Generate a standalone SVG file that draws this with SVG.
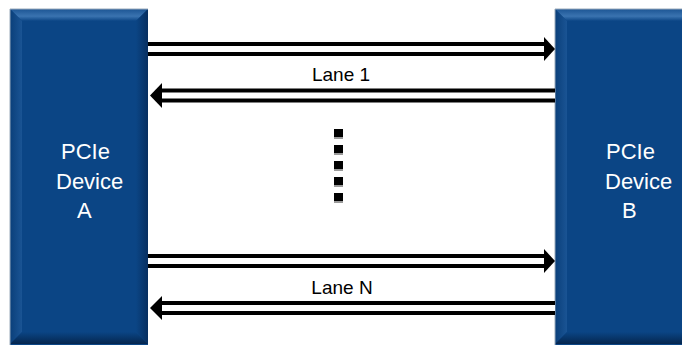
<svg xmlns="http://www.w3.org/2000/svg" width="682" height="345" viewBox="0 0 682 345">
  <defs>
    <linearGradient id="gTop" x1="0" y1="0" x2="0" y2="1">
      <stop offset="0" stop-color="#1c5594"/>
      <stop offset="0.6" stop-color="#3a73b0"/>
      <stop offset="1" stop-color="#0b4585"/>
    </linearGradient>
    <linearGradient id="gLeft" x1="0" y1="0" x2="1" y2="0">
      <stop offset="0" stop-color="#0a3f7a"/>
      <stop offset="1" stop-color="#1a5494"/>
    </linearGradient>
    <linearGradient id="gRight" x1="0" y1="0" x2="1" y2="0">
      <stop offset="0" stop-color="#0b4585"/>
      <stop offset="1" stop-color="#072f60"/>
    </linearGradient>
    <linearGradient id="gBottom" x1="0" y1="0" x2="0" y2="1">
      <stop offset="0" stop-color="#0b4585"/>
      <stop offset="1" stop-color="#05264f"/>
    </linearGradient>
  </defs>
  <style>
    .face { fill: #0b4585; }
    .edge { stroke: #9aaabb; stroke-width: 1; fill: none; }
    .lbl { font-family: "Liberation Sans", Arial, sans-serif; font-size: 22px; fill: #ffffff; }
    .lane { font-family: "Liberation Sans", Arial, sans-serif; font-size: 19px; fill: #000000; text-anchor: middle; }
    .arrow { fill: #000000; }
    .gap { fill: #ffffff; }
    .dot { fill: #000000; }
    .dotsh { fill: #9a9a9a; }
  </style>
  <rect width="682" height="345" fill="#ffffff"/>

  <g id="deviceA">
    <rect class="face" x="10" y="9" width="138" height="336"/>
    <polygon fill="url(#gTop)" points="10,9 148,9 136,21 22,21"/>
    <polygon fill="url(#gLeft)" points="10,9 22,21 22,332 10,344"/>
    <polygon fill="url(#gRight)" points="148,9 148,344 136,332 136,21"/>
    <polygon fill="url(#gBottom)" points="10,344 22,332 136,332 148,344"/>
    <path class="edge" d="M10,345 V9 H148"/>
    <text class="lbl" x="61" y="159">PCIe</text>
    <text class="lbl" x="56" y="189">Device</text>
    <text class="lbl" x="77" y="218">A</text>
  </g>

  <g id="deviceB">
    <rect class="face" x="555" y="9" width="140" height="336"/>
    <polygon fill="url(#gTop)" points="555,9 695,9 683,21 567,21"/>
    <polygon fill="url(#gLeft)" points="555,9 567,21 567,332 555,344"/>
    <polygon fill="url(#gBottom)" points="555,344 567,332 683,332 695,344"/>
    <path class="edge" d="M555,345 V9 H682"/>
    <text class="lbl" x="606" y="159">PCIe</text>
    <text class="lbl" x="605" y="189">Device</text>
    <text class="lbl" x="622" y="218">B</text>
  </g>

  <g id="connectors">
    <!-- Lane 1 TX (A to B) -->
    <rect class="arrow" x="148" y="42" width="398" height="14"/>
    <rect class="gap" x="148" y="46" width="398" height="6"/>
    <polygon class="arrow" points="544,37 555,49 544,61"/>
    <!-- Lane 1 RX (B to A) -->
    <rect class="arrow" x="161" y="88.5" width="394" height="14"/>
    <rect class="gap" x="161" y="92.5" width="394" height="6"/>
    <polygon class="arrow" points="150,95.5 162,83 162,108"/>
    <!-- Lane N TX (A to B) -->
    <rect class="arrow" x="148" y="254" width="398" height="14"/>
    <rect class="gap" x="148" y="258" width="398" height="6"/>
    <polygon class="arrow" points="544,249 555,261 544,273"/>
    <!-- Lane N RX (B to A) -->
    <rect class="arrow" x="161" y="301" width="394" height="14"/>
    <rect class="gap" x="161" y="305" width="394" height="6"/>
    <polygon class="arrow" points="150,308 162,296 162,320"/>
  </g>

  <g id="labels">
    <text class="lane" x="341" y="81">Lane 1</text>
    <text class="lane" x="342" y="294">Lane N</text>
  </g>

  <g id="ellipsis">
    <rect class="dotsh" x="334" y="130" width="9" height="9"/>
    <rect class="dot" x="334" y="129" width="9" height="8"/>
    <rect class="dotsh" x="334" y="146" width="9" height="9"/>
    <rect class="dot" x="334" y="145" width="9" height="8"/>
    <rect class="dotsh" x="334" y="162" width="9" height="9"/>
    <rect class="dot" x="334" y="161" width="9" height="8"/>
    <rect class="dotsh" x="334" y="178" width="9" height="9"/>
    <rect class="dot" x="334" y="177" width="9" height="8"/>
    <rect class="dotsh" x="334" y="194" width="9" height="9"/>
    <rect class="dot" x="334" y="193" width="9" height="8"/>
  </g>
</svg>
